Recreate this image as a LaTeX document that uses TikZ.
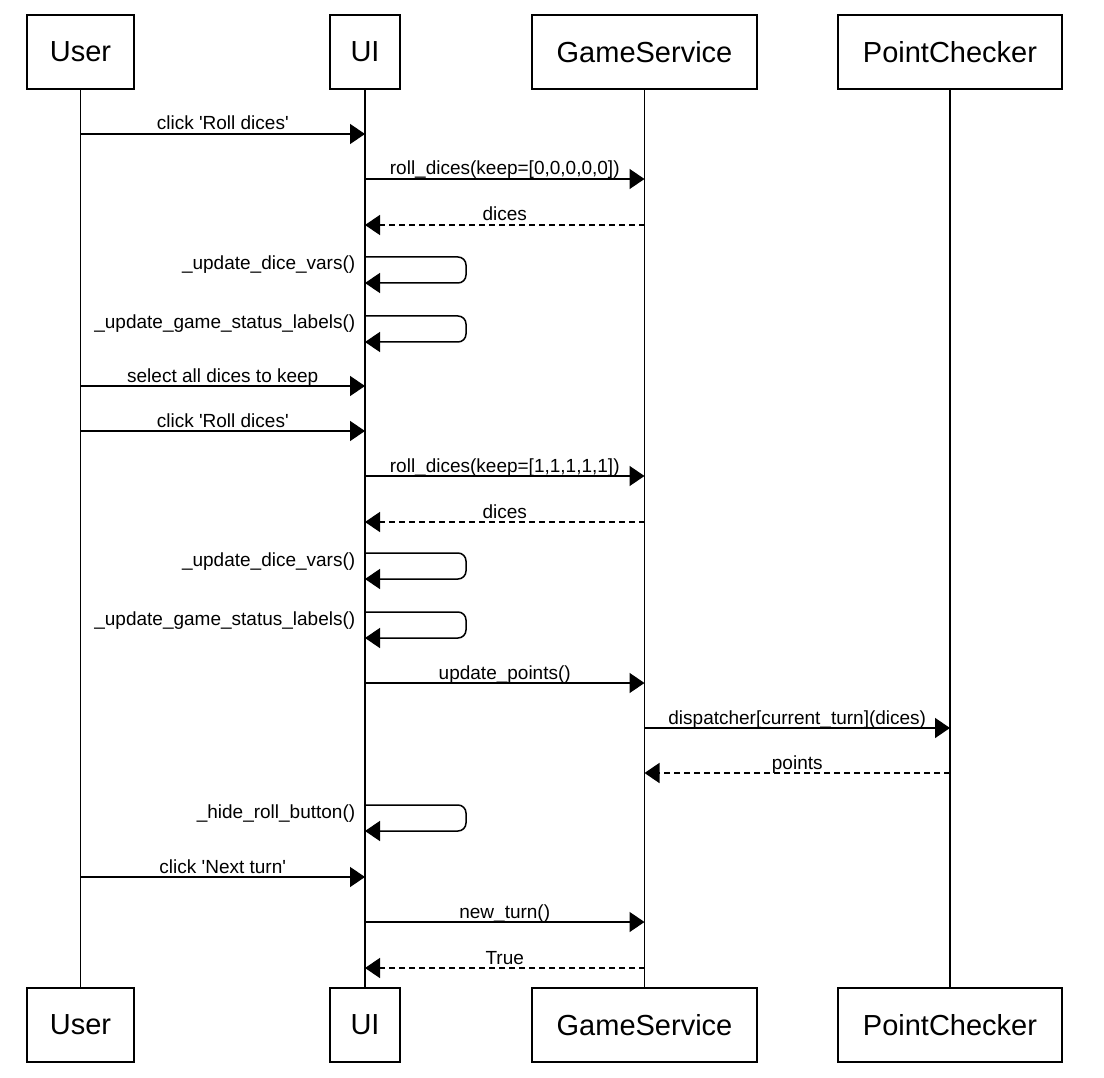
\documentclass[tikz,border=0pt]{standalone}
\usepackage{fontspec}
\setmainfont{Liberation Sans}
\usetikzlibrary{arrows.meta}

\begin{document}
\begin{tikzpicture}
        [x=1pt, y=-1pt,
        every node/.style={font=\fontsize{19}{22}\selectfont},
        actor/.style={draw, line width=1.5pt, minimum height=74pt, inner sep=0pt,
                      font=\fontsize{29}{34}\selectfont},
        life/.style={line width=1.5pt},
        msg/.style={line width=1.5pt, -{Triangle[length=15pt,width=20pt]}},
        reply/.style={msg, dash pattern=on 6pt off 4pt},
        lbl/.style={anchor=base, yshift=4pt, inner sep=0pt},
        selflbl/.style={anchor=base east, xshift=-9pt, yshift=-13pt, inner sep=0pt}]

    \useasboundingbox (0,0) rectangle (1104,1078);

    % participants, top and bottom
    \node[actor, minimum width=107pt] (userT) at (80.5,52) {User};
    \node[actor, minimum width=70pt]  (uiT)   at (365,52)  {UI};
    \node[actor, minimum width=225pt] (gsT)   at (644.5,52) {GameService};
    \node[actor, minimum width=224pt] (pcT)   at (950,52)  {PointChecker};

    \node[actor, minimum width=107pt] (userB) at (80.5,1025) {User};
    \node[actor, minimum width=70pt]  (uiB)   at (365,1025)  {UI};
    \node[actor, minimum width=225pt] (gsB)   at (644.5,1025) {GameService};
    \node[actor, minimum width=224pt] (pcB)   at (950,1025)  {PointChecker};

    \foreach \n in {user, ui, gs, pc}
      \draw[life] (\n T.south) -- (\n B.north);

    % first roll
    \draw[msg] (userT |- 0,134) -- node[lbl]{click \textquotesingle Roll dices\textquotesingle} (uiT |- 0,134);
    \draw[msg] (uiT |- 0,179) -- node[lbl]{roll\_dices(keep=[0,0,0,0,0])} (gsT |- 0,179);
    \draw[reply] (gsT |- 0,225) -- node[lbl]{dices} (uiT |- 0,225);
    \draw[msg, rounded corners=8pt] (uiT |- 0,257) node[selflbl]{\_update\_dice\_vars()}
      -- ++(101,0) -- ++(0,26) -- (uiT |- 0,283);
    \draw[msg, rounded corners=8pt] (uiT |- 0,316) node[selflbl]{\_update\_game\_status\_labels()}
      -- ++(101,0) -- ++(0,26) -- (uiT |- 0,342);

    % second roll
    \draw[msg] (userT |- 0,386) -- node[lbl]{select all dices to keep} (uiT |- 0,386);
    \draw[msg] (userT |- 0,431) -- node[lbl]{click \textquotesingle Roll dices\textquotesingle} (uiT |- 0,431);
    \draw[msg] (uiT |- 0,476) -- node[lbl]{roll\_dices(keep=[1,1,1,1,1])} (gsT |- 0,476);
    \draw[reply] (gsT |- 0,522) -- node[lbl]{dices} (uiT |- 0,522);
    \draw[msg, rounded corners=8pt] (uiT |- 0,553) node[selflbl]{\_update\_dice\_vars()}
      -- ++(101,0) -- ++(0,26) -- (uiT |- 0,579);
    \draw[msg, rounded corners=8pt] (uiT |- 0,612) node[selflbl]{\_update\_game\_status\_labels()}
      -- ++(101,0) -- ++(0,26) -- (uiT |- 0,638);

    % points
    \draw[msg] (uiT |- 0,683) -- node[lbl]{update\_points()} (gsT |- 0,683);
    \draw[msg] (gsT |- 0,728) -- node[lbl]{dispatcher[current\_turn](dices)} (pcT |- 0,728);
    \draw[reply] (pcT |- 0,773) -- node[lbl]{points} (gsT |- 0,773);
    \draw[msg, rounded corners=8pt] (uiT |- 0,805) node[selflbl]{\_hide\_roll\_button()}
      -- ++(101,0) -- ++(0,26) -- (uiT |- 0,831);

    % next turn
    \draw[msg] (userT |- 0,877) -- node[lbl]{click \textquotesingle Next turn\textquotesingle} (uiT |- 0,877);
    \draw[msg] (uiT |- 0,922) -- node[lbl]{new\_turn()} (gsT |- 0,922);
    \draw[reply] (gsT |- 0,968) -- node[lbl]{True} (uiT |- 0,968);
\end{tikzpicture}
\end{document}
